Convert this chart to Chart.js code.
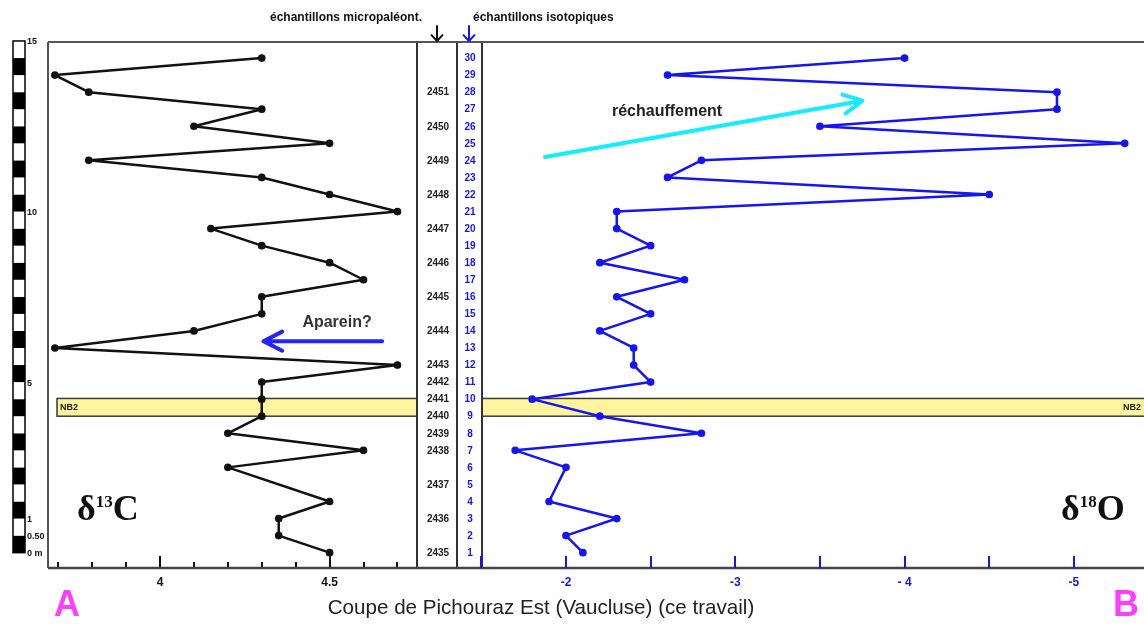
<!DOCTYPE html>
<html>
<head>
<meta charset="utf-8">
<script src="https://cdn.jsdelivr.net/npm/chart.js@4.4.0/dist/chart.umd.min.js"></script>
<style>
  html, body { margin: 0; padding: 0; background: #fff; }
  #wrap { position: relative; width: 1144px; height: 628px; overflow: hidden; }
  #wrap canvas { position: absolute; left: 0; top: 0; }
</style>
</head>
<body>
<div id="wrap">
  <canvas id="c13" width="1144" height="628"></canvas>
  <canvas id="c18" width="1144" height="628"></canvas>
</div>
<script>
// Coupe de Pichouraz Est — isotopic samples, depth in metres above the base of the section
const sampleNumbers = [1, 2, 3, 4, 5, 6, 7, 8, 9, 10, 11, 12, 13, 14, 15, 16, 17, 18, 19, 20, 21, 22, 23, 24, 25, 26, 27, 28, 29, 30];
const sampleDepths  = [0, 0.5, 1, 1.5, 2, 2.5, 3, 3.5, 4, 4.5, 5, 5.5, 6, 6.5, 7, 7.5, 8, 8.5, 9, 9.5, 10, 10.5, 11, 11.5, 12, 12.5, 13, 13.5, 14, 14.5];
const delta13C = [4.5, 4.35, 4.35, 4.5, null, 4.2, 4.6, 4.2, 4.3, 4.3, 4.3, 4.7, 3.69, 4.1, 4.3, 4.3, 4.6, 4.5, 4.3, 4.15, 4.7, 4.5, 4.3, 3.79, 4.5, 4.1, 4.3, 3.79, 3.69, 4.3];
const delta18O = [-2.1, -2.0, -2.3, -1.9, null, -2.0, -1.7, -2.8, -2.2, -1.8, -2.5, -2.4, -2.4, -2.2, -2.5, -2.3, -2.7, -2.2, -2.5, -2.3, -2.3, -4.5, -2.6, -2.8, -5.3, -3.5, -4.9, -4.9, -2.6, -4.0];

// micropalaeontological samples and their depths
const microSamples = ['2435', '2436', '2437', '2438', '2439', '2440', '2441', '2442', '2443', '2444', '2445', '2446', '2447', '2448', '2449', '2450', '2451'];
const microDepths  = [0, 1, 2, 3, 3.5, 4, 4.5, 5, 5.5, 6.5, 7.5, 8.5, 9.5, 10.5, 11.5, 12.5, 13.5];

// metric scale bar
const scaleBarLabels = ['0 m', '0.50', '1', '5', '10', '15'];
const scaleBarDepths = [0, 0.5, 1, 5, 10, 15];

// horizontal axes
const ticks13C  = [3.7, 3.8, 3.9, 4.0, 4.1, 4.2, 4.3, 4.4, 4.5, 4.6, 4.7];
const major13C  = [4.0, 4.5];
const labels13C = ['4', '4.5'];
const ticks18O  = [-1.5, -2, -2.5, -3, -3.5, -4, -4.5, -5];
const major18O  = [-2, -3, -4, -5];
const labels18O = ['-2', '-3', '- 4', '-5'];

// NB2 level (m)
const nb2Band = [4.0, 4.52];

const DEPTH_MIN = -0.45, DEPTH_MAX = 14.97;
const NARROW = '"Liberation Sans Narrow", "Arial Narrow", "Liberation Sans", sans-serif';
const SANS = '"Liberation Sans", Arial, sans-serif';
const SERIF = '"Liberation Serif", "Times New Roman", serif';
const BLUE = '#1414f5';

function profile(values) {
  return sampleDepths
    .map((d, i) => (values[i] === null ? null : { x: values[i], y: d }))
    .filter(p => p !== null);
}

function drawBand(ctx, x0, x1, y) {
  const top = y.getPixelForValue(nb2Band[1]);
  const bot = y.getPixelForValue(nb2Band[0]);
  ctx.save();
  ctx.fillStyle = '#fff59c';
  ctx.fillRect(x0, top, x1 - x0, bot - top);
  ctx.strokeStyle = '#3a3a3a';
  ctx.lineWidth = 1.5;
  ctx.strokeRect(x0, top, x1 - x0, bot - top);
  ctx.restore();
  return (top + bot) / 2;
}

function arrow(ctx, x0, y0, x1, y1, color, width, head, spread) {
  const ang = Math.atan2(y1 - y0, x1 - x0);
  ctx.save();
  ctx.strokeStyle = color;
  ctx.lineWidth = width;
  ctx.lineCap = 'round';
  ctx.lineJoin = 'round';
  ctx.beginPath();
  ctx.moveTo(x0, y0);
  ctx.lineTo(x1, y1);
  ctx.moveTo(x1 - head * Math.cos(ang - spread), y1 - head * Math.sin(ang - spread));
  ctx.lineTo(x1, y1);
  ctx.lineTo(x1 - head * Math.cos(ang + spread), y1 - head * Math.sin(ang + spread));
  ctx.stroke();
  ctx.restore();
}

function deltaLabel(ctx, x, baseline, sup, letter) {
  ctx.save();
  ctx.fillStyle = '#111';
  ctx.textAlign = 'left';
  ctx.textBaseline = 'alphabetic';
  ctx.font = 'bold 36px ' + SERIF;
  ctx.fillText('\u03b4', x, baseline);
  const w1 = ctx.measureText('\u03b4').width;
  ctx.font = 'bold 17px ' + SERIF;
  ctx.fillText(sup, x + w1, baseline - 13);
  const w2 = ctx.measureText(sup).width;
  ctx.font = 'bold 36px ' + SERIF;
  ctx.fillText(letter, x + w1 + w2, baseline);
  ctx.restore();
}

function bottomTicks(ctx, xScale, base, ticks, majors, labels, color, minorLen, majorLen) {
  ctx.save();
  ctx.strokeStyle = color;
  ctx.lineWidth = 2;
  ticks.forEach(v => {
    const px = Math.round(xScale.getPixelForValue(v));
    const len = majors.includes(v) ? majorLen : minorLen;
    ctx.beginPath();
    ctx.moveTo(px, base);
    ctx.lineTo(px, base - len);
    ctx.stroke();
  });
  ctx.fillStyle = color;
  ctx.font = 'bold 12px ' + NARROW;
  ctx.textAlign = 'center';
  ctx.textBaseline = 'middle';
  majors.forEach((v, i) => ctx.fillText(labels[i], xScale.getPixelForValue(v), base + 15));
  ctx.restore();
}

// δ13C panel
const carbonPanel = {
  id: 'carbonPanel',
  beforeDatasetsDraw(chart) {
    const { ctx, chartArea: a, scales: { y } } = chart;
    const mid = drawBand(ctx, a.left + 9, a.right, y);
    ctx.save();
    ctx.fillStyle = '#222';
    ctx.font = 'bold 9px ' + SANS;
    ctx.textAlign = 'left';
    ctx.textBaseline = 'middle';
    ctx.fillText('NB2', a.left + 12, mid + 0.5);
    ctx.restore();
  },
  afterDraw(chart) {
    const { ctx, chartArea: a, scales: { x, y } } = chart;
    ctx.save();
    // panel frame (left side)
    ctx.strokeStyle = '#555';
    ctx.lineWidth = 2;
    ctx.beginPath();
    ctx.moveTo(a.left, a.top);
    ctx.lineTo(a.left, a.bottom);
    ctx.stroke();

    // metric scale bar
    const bx = 13, bw = 12;
    for (let k = 0; k < 30; k++) {
      const yTop = y.getPixelForValue((k + 1) * 0.5);
      const yBot = y.getPixelForValue(k * 0.5);
      ctx.fillStyle = k % 2 === 0 ? '#000' : '#fff';
      ctx.fillRect(bx, yTop, bw, yBot - yTop);
    }
    ctx.strokeStyle = '#000';
    ctx.lineWidth = 1.5;
    ctx.strokeRect(bx, y.getPixelForValue(15), bw, y.getPixelForValue(0) - y.getPixelForValue(15));
    ctx.fillStyle = '#111';
    ctx.font = 'bold 9px ' + SANS;
    ctx.textAlign = 'left';
    ctx.textBaseline = 'middle';
    scaleBarLabels.forEach((t, i) => ctx.fillText(t, bx + bw + 2, y.getPixelForValue(scaleBarDepths[i]) + 1));
    ctx.restore();

    bottomTicks(ctx, x, a.bottom, ticks13C, major13C, labels13C, '#111', 6, 12);
    deltaLabel(ctx, a.left + 29, y.getPixelForValue(0.96), '13', 'C');

    // "Aparein?" annotation
    arrow(ctx, x.getPixelForValue(4.655), y.getPixelForValue(6.2), x.getPixelForValue(4.305), y.getPixelForValue(6.2),
          '#2323ff', 4, 21, 0.47);
    ctx.save();
    ctx.fillStyle = '#333';
    ctx.font = 'bold 16px ' + SANS;
    ctx.textAlign = 'center';
    ctx.textBaseline = 'middle';
    ctx.fillText('Aparein?', x.getPixelForValue(4.522), y.getPixelForValue(6.73));
    ctx.restore();
  }
};

// δ18O panel, sample columns and page furniture
const oxygenPanel = {
  id: 'oxygenPanel',
  beforeDatasetsDraw(chart) {
    const { ctx, chartArea: a, scales: { y } } = chart;
    const mid = drawBand(ctx, a.left, a.right + 4, y);
    ctx.save();
    ctx.fillStyle = '#222';
    ctx.font = 'bold 9px ' + SANS;
    ctx.textAlign = 'right';
    ctx.textBaseline = 'middle';
    ctx.fillText('NB2', a.right - 3, mid + 0.5);
    ctx.restore();
  },
  afterDraw(chart) {
    const { ctx, chartArea: a, scales: { x, y } } = chart;
    const colMicro = [417, 457];
    const colIso = [457, a.left];

    ctx.save();
    // sample columns
    ctx.fillStyle = '#fff';
    ctx.fillRect(colMicro[0] + 1, a.top + 1, a.left - colMicro[0] - 2, a.bottom - a.top - 2);
    ctx.strokeStyle = '#333';
    ctx.lineWidth = 2;
    [colMicro[0], colMicro[1], a.left].forEach(px => {
      ctx.beginPath();
      ctx.moveTo(px, a.top);
      ctx.lineTo(px, a.bottom);
      ctx.stroke();
    });
    // top and bottom frame lines
    ctx.strokeStyle = '#555';
    ctx.beginPath();
    ctx.moveTo(48, a.top);
    ctx.lineTo(chart.width, a.top);
    ctx.stroke();
    ctx.strokeStyle = '#444';
    ctx.lineWidth = 2.5;
    ctx.beginPath();
    ctx.moveTo(48, a.bottom);
    ctx.lineTo(chart.width, a.bottom);
    ctx.stroke();

    // sample labels
    ctx.font = 'bold 10px ' + NARROW;
    ctx.textAlign = 'center';
    ctx.textBaseline = 'middle';
    ctx.fillStyle = '#222';
    microSamples.forEach((t, i) => ctx.fillText(t, (colMicro[0] + colMicro[1]) / 2 + 1, y.getPixelForValue(microDepths[i]) + 0.5));
    ctx.fillStyle = BLUE;
    sampleNumbers.forEach((n, i) => ctx.fillText(String(n), (colIso[0] + colIso[1]) / 2 + 0.5, y.getPixelForValue(sampleDepths[i]) + 0.5));

    // column headers
    ctx.font = 'bold 12px ' + NARROW;
    ctx.textBaseline = 'alphabetic';
    ctx.fillStyle = '#111';
    ctx.textAlign = 'right';
    ctx.fillText('\u00e9chantillons micropal\u00e9ont.', 422, 21);
    ctx.textAlign = 'left';
    ctx.fillText('\u00e9chantillons isotopiques', 473, 21);
    ctx.restore();
    arrow(ctx, 437, 26, 437, 41, '#111', 2, 8, 0.75);
    arrow(ctx, 469, 26, 469, 41, BLUE, 2, 8, 0.75);

    bottomTicks(ctx, x, a.bottom, ticks18O, major18O, labels18O, BLUE, 12, 12);
    deltaLabel(ctx, 1061, y.getPixelForValue(0.96), '18', 'O');

    // "réchauffement" annotation
    arrow(ctx, x.getPixelForValue(-1.876), y.getPixelForValue(11.6), x.getPixelForValue(-3.751), y.getPixelForValue(13.25),
          '#14eefc', 4, 21, 0.47);
    ctx.save();
    ctx.fillStyle = '#222';
    ctx.font = 'bold 16px ' + SANS;
    ctx.textAlign = 'center';
    ctx.textBaseline = 'middle';
    ctx.fillText('r\u00e9chauffement', x.getPixelForValue(-2.597), y.getPixelForValue(12.92));

    // section title and panel letters
    ctx.fillStyle = '#222';
    ctx.font = '20.6px ' + NARROW;
    ctx.fillText('Coupe de Pichouraz Est (Vaucluse) (ce travail)', 541, 608);
    ctx.fillStyle = '#ff3cff';
    ctx.font = 'bold 36px ' + SANS;
    ctx.fillText('A', 67, 606);
    ctx.fillText('B', 1126, 606);
    ctx.restore();
  }
};

function makeChart(id, values, color, xMin, xMax, reverse, padLeft, padRight, plugin) {
  return new Chart(document.getElementById(id), {
    type: 'scatter',
    data: {
      datasets: [{
        data: profile(values),
        showLine: true,
        borderColor: color,
        backgroundColor: color,
        borderWidth: 2.5,
        borderJoinStyle: 'round',
        borderCapStyle: 'round',
        pointRadius: 2.6,
        pointHoverRadius: 2.6,
        tension: 0
      }]
    },
    options: {
      responsive: false,
      animation: false,
      devicePixelRatio: 1,
      events: [],
      layout: { autoPadding: false, padding: { left: padLeft, right: padRight, top: 42, bottom: 60 } },
      plugins: { legend: { display: false }, tooltip: { enabled: false } },
      scales: {
        x: { type: 'linear', display: false, min: xMin, max: xMax, reverse: reverse },
        y: { type: 'linear', display: false, min: DEPTH_MIN, max: DEPTH_MAX }
      }
    },
    plugins: [plugin]
  });
}

makeChart('c13', delta13C, '#111', 3.6698, 4.7577, false, 48, 1144 - 417, carbonPanel);
makeChart('c18', delta18O, BLUE, -5.414, -1.504, true, 482, 0, oxygenPanel);
</script>
</body>
</html>
